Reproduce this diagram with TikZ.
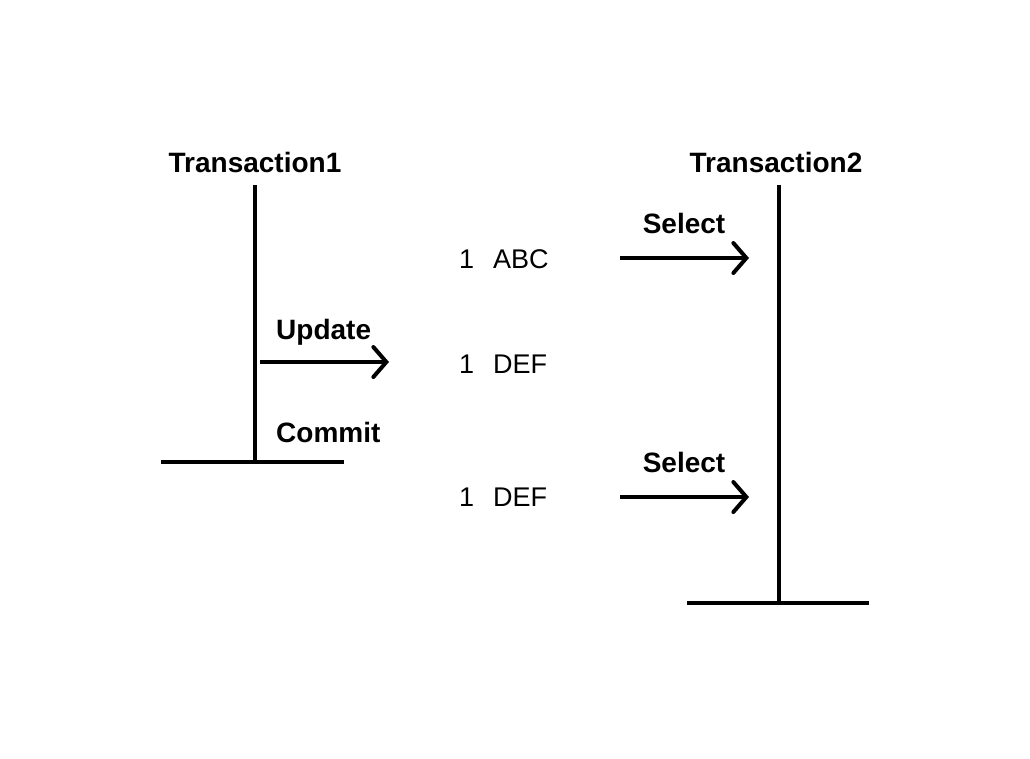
\documentclass[tikz,border=0pt]{standalone}
\usepackage{fontspec}
\setmainfont{Liberation Sans}
\usetikzlibrary{arrows.meta}
\begin{document}
\begin{tikzpicture}[x=1pt,y=-1pt,
  lbl/.style={font=\fontsize{28}{32}\selectfont\bfseries, inner sep=0pt, anchor=base},
  val/.style={font=\fontsize{27}{30}\selectfont, inner sep=0pt, anchor=base west},
  life/.style={line width=4pt},
  msg/.style={line width=4pt, -{Straight Barb[length=13pt,width=30pt,line width=4pt,line cap=round]}}
]
\useasboundingbox (0,0) rectangle (1030,758);
% Transaction 1
\node[lbl] (t1) at (255,172) {Transaction1};
\coordinate (t1top) at (255,185);
\coordinate (t1bot) at (255,462);
\coordinate (t1endL) at (161,462);
\coordinate (t1endR) at (344,462);
\draw[life] (t1top) -- (t1bot);
\draw[life] (t1endL) -- (t1endR);
\node[lbl, anchor=base west] (upd) at (276,339) {Update};
\node[lbl, anchor=base west] (com) at (276,442) {Commit};
\coordinate (updS) at (260,362);
\coordinate (updE) at (389,362);
\draw[msg] (updS) -- (updE);
% values
\node[val] (v1) at (459,268) {1\hspace{19pt}ABC};
\node[val] (v2) at (459,373.5) {1\hspace{19pt}DEF};
\node[val] (v3) at (459,506) {1\hspace{19pt}DEF};
% Transaction 2
\node[lbl] (t2) at (776,172) {Transaction2};
\coordinate (t2top) at (779,185);
\coordinate (t2bot) at (779,603);
\coordinate (t2endL) at (687,603);
\coordinate (t2endR) at (869,603);
\draw[life] (t2top) -- (t2bot);
\draw[life] (t2endL) -- (t2endR);
\node[lbl] (s1) at (684,233) {Select};
\node[lbl] (s2) at (684,472) {Select};
\coordinate (s1S) at (620,258);
\coordinate (s1E) at (749,258);
\coordinate (s2S) at (620,497);
\coordinate (s2E) at (749,497);
\draw[msg] (s1S) -- (s1E);
\draw[msg] (s2S) -- (s2E);
\end{tikzpicture}
\end{document}
